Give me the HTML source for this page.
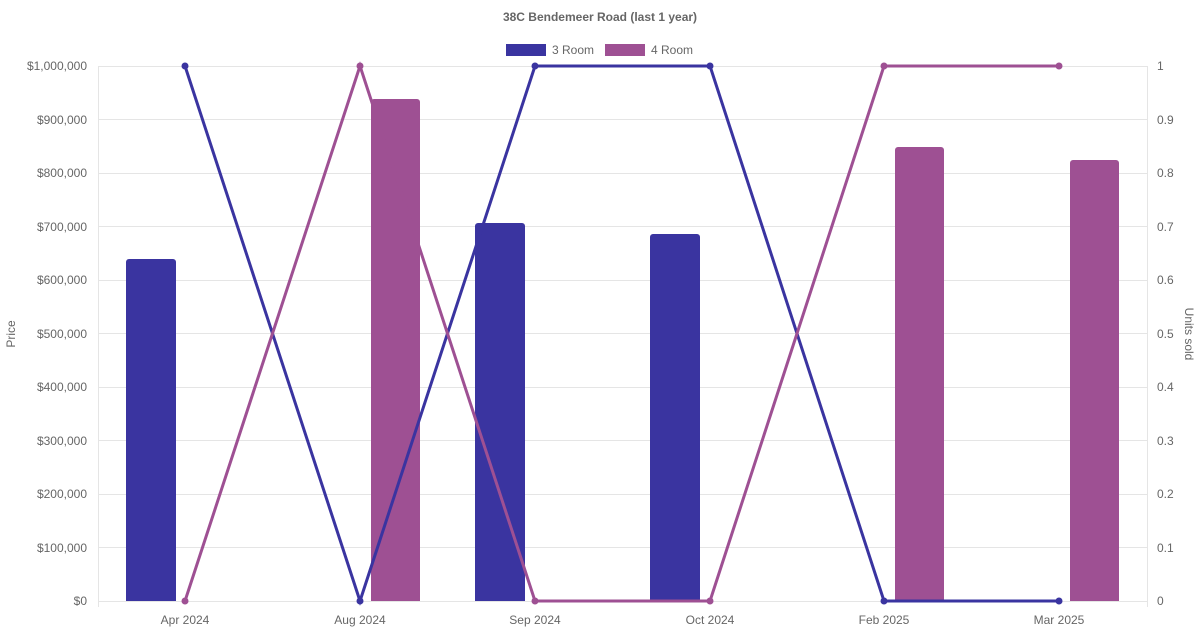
<!DOCTYPE html>
<html><head><meta charset="utf-8"><style>
body{margin:0;background:#fff;}
svg{display:block;font-family:"Liberation Sans",Arial,sans-serif;}
</style></head><body>
<svg width="1200" height="630" xmlns="http://www.w3.org/2000/svg">
<text x="600" y="21" text-anchor="middle" font-size="12" font-weight="bold" fill="#666">38C Bendemeer Road (last 1 year)</text>
<rect x="506" y="44" width="40" height="12" fill="#3a34a0"/>
<text x="552" y="54" font-size="12" fill="#666">3 Room</text>
<rect x="605" y="44" width="40" height="12" fill="#9e5093"/>
<text x="651" y="54" font-size="12" fill="#666">4 Room</text>
<g stroke="#e5e5e5" stroke-width="1">
<line x1="98" y1="66.5" x2="1147" y2="66.5"/>
<line x1="98" y1="119.5" x2="1147" y2="119.5"/>
<line x1="98" y1="173.5" x2="1147" y2="173.5"/>
<line x1="98" y1="226.5" x2="1147" y2="226.5"/>
<line x1="98" y1="280.5" x2="1147" y2="280.5"/>
<line x1="98" y1="333.5" x2="1147" y2="333.5"/>
<line x1="98" y1="387.5" x2="1147" y2="387.5"/>
<line x1="98" y1="440.5" x2="1147" y2="440.5"/>
<line x1="98" y1="494.5" x2="1147" y2="494.5"/>
<line x1="98" y1="547.5" x2="1147" y2="547.5"/>
<line x1="98" y1="601.5" x2="1147" y2="601.5"/>
<line x1="98.5" y1="66" x2="98.5" y2="607"/>
<line x1="1147.5" y1="66" x2="1147.5" y2="607"/>
</g>
<g font-size="12" fill="#666" text-anchor="end">
<text x="87" y="70">$1,000,000</text>
<text x="87" y="124">$900,000</text>
<text x="87" y="177">$800,000</text>
<text x="87" y="231">$700,000</text>
<text x="87" y="284">$600,000</text>
<text x="87" y="338">$500,000</text>
<text x="87" y="391">$400,000</text>
<text x="87" y="445">$300,000</text>
<text x="87" y="498">$200,000</text>
<text x="87" y="552">$100,000</text>
<text x="87" y="605">$0</text>
</g>
<g font-size="12" fill="#666">
<text x="1157" y="70">1</text>
<text x="1157" y="124">0.9</text>
<text x="1157" y="177">0.8</text>
<text x="1157" y="231">0.7</text>
<text x="1157" y="284">0.6</text>
<text x="1157" y="338">0.5</text>
<text x="1157" y="391">0.4</text>
<text x="1157" y="445">0.3</text>
<text x="1157" y="498">0.2</text>
<text x="1157" y="552">0.1</text>
<text x="1157" y="605">0</text>
</g>
<g font-size="12" fill="#666" text-anchor="middle">
<text x="185" y="624">Apr 2024</text>
<text x="360" y="624">Aug 2024</text>
<text x="535" y="624">Sep 2024</text>
<text x="710" y="624">Oct 2024</text>
<text x="884" y="624">Feb 2025</text>
<text x="1059" y="624">Mar 2025</text>
</g>
<text transform="translate(15,334) rotate(-90)" text-anchor="middle" font-size="12" fill="#666">Price</text>
<text transform="translate(1185,334) rotate(90)" text-anchor="middle" font-size="12" fill="#666">Units sold</text>
<g fill="#3a34a0">
<path d="M126,601V262a3,3 0 0 1 3,-3H173a3,3 0 0 1 3,3V601Z"/>
<path d="M475,601V226a3,3 0 0 1 3,-3H522a3,3 0 0 1 3,3V601Z"/>
<path d="M650,601V237a3,3 0 0 1 3,-3H697a3,3 0 0 1 3,3V601Z"/>
</g>
<g fill="#9e5093">
<path d="M371,601V102a3,3 0 0 1 3,-3H417a3,3 0 0 1 3,3V601Z"/>
<path d="M895,601V150a3,3 0 0 1 3,-3H941a3,3 0 0 1 3,3V601Z"/>
<path d="M1070,601V163a3,3 0 0 1 3,-3H1116a3,3 0 0 1 3,3V601Z"/>
</g>
<polyline points="185,66 360,601 535,66 710,66 884,601 1059,601" fill="none" stroke="#3a34a0" stroke-width="3"/>
<polyline points="185,601 360,66 535,601 710,601 884,66 1059,66" fill="none" stroke="#9e5093" stroke-width="3"/>
<g fill="#3a34a0">
<circle cx="185" cy="66" r="3.5"/><circle cx="360" cy="601" r="3.5"/><circle cx="535" cy="66" r="3.5"/><circle cx="710" cy="66" r="3.5"/><circle cx="884" cy="601" r="3.5"/><circle cx="1059" cy="601" r="3.5"/>
</g>
<g fill="#9e5093">
<circle cx="185" cy="601" r="3.5"/><circle cx="360" cy="66" r="3.5"/><circle cx="535" cy="601" r="3.5"/><circle cx="710" cy="601" r="3.5"/><circle cx="884" cy="66" r="3.5"/><circle cx="1059" cy="66" r="3.5"/>
</g>
</svg>
</body></html>
